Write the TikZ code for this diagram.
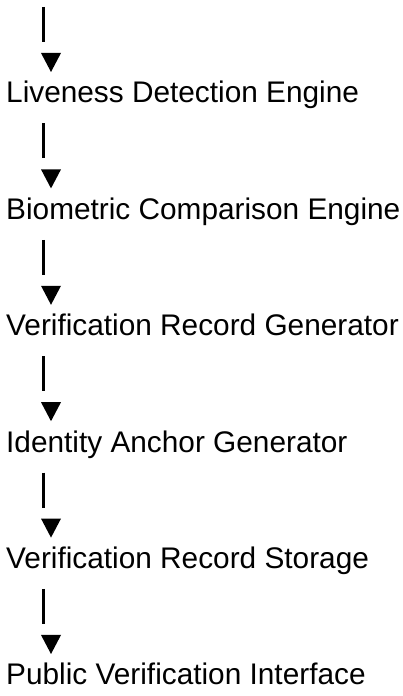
\documentclass[tikz,border=0pt]{standalone}
\usepackage{fontspec}
\setmainfont{Liberation Sans}
\begin{document}
\begin{tikzpicture}[x=1pt,y=1pt,
  steptext/.style={anchor=base west, inner sep=0pt, font=\fontsize{29.8}{35}\selectfont, text=black},
  pipeline/.style={line width=2.2pt, draw=black},
  arrowtri/.style={fill=black}]
\useasboundingbox (0,0) rectangle (402,696);
\foreach \k/\txt in {0/Liveness Detection Engine,1/Biometric Comparison Engine,2/Verification Record Generator,3/Identity Anchor Generator,4/Verification Record Storage,5/Public Verification Interface} {
  \node[steptext] (t\k) at (6,{593-116.4*\k}) {\txt};
  \coordinate (p\k) at ([shift={(37.5,96)}]t\k.base west);
  \coordinate (q\k) at ([shift={(37.5,61)}]t\k.base west);
  \draw[pipeline] (p\k) -- (q\k);
  \fill[arrowtri] ([shift={(35,50)}]t\k.base west) -- ([shift={(55,50)}]t\k.base west) -- ([shift={(45,31)}]t\k.base west) -- cycle;
}
\end{tikzpicture}
\end{document}
